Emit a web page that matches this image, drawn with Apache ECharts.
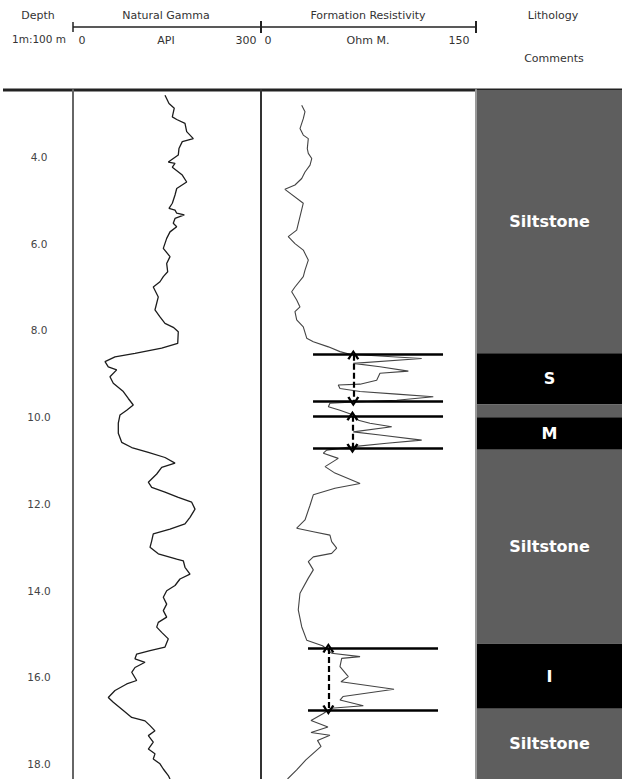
<!DOCTYPE html>
<html><head><meta charset="utf-8">
<script src="https://cdn.jsdelivr.net/npm/echarts@6/dist/echarts.min.js"></script>
<style>html,body{margin:0;padding:0;background:#fff}#c{width:622px;height:779px}</style>
</head><body><div id="c"></div>
<script>
// ---- data ----
const depthTicks = [4, 6, 8, 10, 12, 14, 16, 18];
const depthMin = 2.46, depthMax = 18.34;

const gammaDepth = [2.58,2.77,2.88,3.08,3.14,3.23,3.42,3.58,3.65,3.81,3.96,4.12,4.15,4.24,4.42,4.58,4.73,4.88,5.07,5.19,5.23,5.30,5.34,5.42,5.53,5.61,5.73,5.88,6.11,6.30,6.46,6.65,6.76,6.88,7.00,7.23,7.53,7.69,7.84,7.93,8.03,8.30,8.41,8.53,8.61,8.72,8.84,8.91,9.07,9.22,9.41,9.57,9.72,9.84,9.95,10.14,10.37,10.58,10.70,10.81,10.93,11.06,11.16,11.31,11.50,11.62,11.73,11.85,11.96,12.12,12.31,12.46,12.58,12.69,12.85,13.00,13.15,13.27,13.31,13.46,13.62,13.73,13.88,14.00,14.15,14.31,14.46,14.61,14.73,14.84,14.96,15.11,15.30,15.38,15.46,15.57,15.65,15.77,15.88,16.07,16.15,16.30,16.46,16.57,16.76,16.92,17.00,17.11,17.23,17.34,17.49,17.65,17.76,17.88,17.99,18.11,18.26,18.34];
const gammaAPI = [146.8,153.2,161.6,158.5,165.5,178.7,181.4,192.0,174.4,169.1,168.0,152.1,162.8,158.5,174.4,181.4,165.5,162.8,158.5,153.2,162.8,165.5,177.6,162.8,160.0,165.5,154.8,149.5,144.1,154.8,149.5,151.1,144.1,138.8,128.1,136.1,130.8,138.8,146.8,160.0,168.0,167.1,141.5,98.9,67.0,51.1,56.3,69.7,59.0,64.3,80.3,88.2,96.2,85.7,75.0,72.3,72.3,77.7,93.7,120.2,146.8,162.8,141.5,133.6,120.2,125.6,146.8,168.0,189.4,194.7,186.7,178.7,154.8,128.1,125.6,122.9,136.1,165.5,176.0,178.7,186.7,170.7,162.8,149.5,144.1,149.5,144.1,149.5,136.1,133.6,141.5,152.1,146.8,122.9,101.6,98.9,114.9,98.9,93.7,101.6,85.7,67.0,56.3,64.3,80.3,93.7,114.9,122.9,130.8,120.2,128.1,120.2,130.8,128.1,138.8,144.1,152.1,154.8];

const resDepth = [2.81,2.96,3.12,3.35,3.50,3.58,3.81,3.92,4.04,4.19,4.35,4.50,4.65,4.75,5.07,5.38,5.69,5.84,6.00,6.15,6.38,6.61,6.76,7.00,7.11,7.30,7.46,7.57,7.76,7.92,8.18,8.26,8.38,8.49,8.55,8.65,8.76,8.84,8.94,8.99,9.15,9.24,9.26,9.34,9.41,9.47,9.53,9.61,9.65,9.68,9.76,9.84,9.95,10.07,10.14,10.22,10.34,10.41,10.53,10.60,10.68,10.76,10.83,10.95,11.14,11.29,11.53,11.64,11.79,12.03,12.37,12.56,12.64,12.72,12.87,13.02,13.14,13.22,13.33,13.52,13.71,14.06,14.44,14.83,15.14,15.27,15.44,15.52,15.56,15.75,15.98,16.10,16.27,16.44,16.52,16.65,16.71,16.83,16.99,17.14,17.27,17.33,17.45,17.59,17.90,18.13,18.34];
const resOhm = [28.4,30.7,29.5,27.2,29.5,33.0,32.3,33.0,35.4,34.2,30.7,28.4,23.7,16.7,29.5,27.2,24.9,19.0,23.7,29.5,33.0,30.7,29.5,23.7,21.4,24.9,27.2,23.7,24.9,29.5,31.9,36.5,47.0,55.1,62.1,112.1,64.4,83.0,102.8,83.0,80.7,69.1,53.9,55.1,69.1,94.7,120.2,94.7,65.6,48.1,47.0,55.1,64.4,67.9,76.0,91.2,64.4,83.0,112.1,87.7,64.4,45.8,43.5,53.9,44.7,51.6,69.1,51.6,36.5,34.2,30.7,24.9,36.5,48.1,49.3,52.8,49.3,36.5,33.0,36.5,33.0,27.2,26.0,28.4,31.9,42.9,49.3,69.1,56.3,55.1,60.9,55.8,92.8,57.2,55.1,71.4,48.8,43.5,34.9,46.7,34.9,48.1,39.4,41.9,31.3,24.9,18.5];

const markerDepth = [8.56, 9.64, 9.97, 10.72, 15.32, 16.75];
const markerFrom  = [36.3, 36.3, 36.3, 36.3, 32.8, 32.8];
const markerTo    = [127, 127, 127, 127, 123.5, 123.5];
const arrowTop    = [8.56, 9.97, 15.32];
const arrowBottom = [9.64, 10.72, 16.75];
const arrowOhm    = [64.4, 63.8, 47.0];

const lithTop    = [2.46, 8.53, 9.71, 10.0, 10.75, 15.22, 16.72];
const lithBottom = [8.53, 9.71, 10.0, 10.75, 15.22, 16.72, 18.34];
const lithLabel  = ['Siltstone', 'S', '', 'M', 'Siltstone', 'I', 'Siltstone'];
const lithType   = ['silt', 'dark', 'silt', 'dark', 'silt', 'dark', 'silt'];

const trackTitles = ['Depth', 'Natural Gamma', 'Formation Resistivity', 'Lithology'];
const scaleLabel = '1m:100 m';
const gammaScale = ['0', 'API', '300'];
const resScale = ['0', 'Ohm M.', '150'];
const commentsLabel = 'Comments';

// ---- chart ----
const FONT = 'DejaVu Sans';
const lithColor = {silt: '#5e5e5e', dark: '#000000'};
const chart = echarts.init(document.getElementById('c'), null, {renderer: 'svg'});

const zip = (a, b) => a.map((v, i) => [b[i], v]);
const yBase = {type: 'value', inverse: true, min: depthMin, max: depthMax,
  splitLine: {show: false}, axisTick: {show: false}, axisLabel: {show: false}};

const txt = (x, y, s, size) => ({type: 'text', x: x, y: y,
  style: {text: s, font: (size || 11) + 'px ' + FONT, fill: '#333', align: 'center', verticalAlign: 'middle'}});
const ln = (x1, y1, x2, y2, w, c) => ({type: 'line', shape: {x1, y1, x2, y2}, style: {stroke: c || '#222', lineWidth: w}});
const CHEVRON = 'path://M5,0 L10,9 L8.2,10 L5,3.6 L1.8,10 L0,9 Z';

const option = {
  animation: false,
  backgroundColor: '#fff',
  grid: [
    {left: 73, top: 90, width: 188, bottom: 0},
    {left: 261, top: 90, width: 215, bottom: 0},
    {left: 477, top: 90, width: 145, bottom: 0}
  ],
  xAxis: [
    {type: 'value', gridIndex: 0, min: 0, max: 300, show: false},
    {type: 'value', gridIndex: 1, min: 0, max: 150, show: false},
    {type: 'value', gridIndex: 2, min: 0, max: 1, show: false}
  ],
  yAxis: [
    Object.assign({}, yBase, {gridIndex: 0,
      axisLine: {show: true, lineStyle: {color: '#666', width: 2}},
      axisLabel: {show: true, customValues: depthTicks, formatter: v => v.toFixed(1),
        margin: 34, align: 'center', color: '#444', fontSize: 10.5, fontFamily: FONT}}),
    Object.assign({}, yBase, {gridIndex: 1, axisLine: {show: true, lineStyle: {color: '#333', width: 2}}}),
    Object.assign({}, yBase, {gridIndex: 1, position: 'right', axisLine: {show: true, lineStyle: {color: '#999', width: 2}}}),
    Object.assign({}, yBase, {gridIndex: 2, axisLine: {show: false}})
  ],
  series: [
    {type: 'line', xAxisIndex: 0, yAxisIndex: 0, data: zip(gammaDepth, gammaAPI),
      showSymbol: false, lineStyle: {color: '#1c1c1c', width: 1.3}, silent: true},
    {type: 'line', xAxisIndex: 1, yAxisIndex: 1, data: zip(resDepth, resOhm),
      showSymbol: false, lineStyle: {color: '#444', width: 1.1}, silent: true},
    {type: 'line', xAxisIndex: 1, yAxisIndex: 1, data: [], silent: true,
      markLine: {silent: true, symbol: ['none', 'none'], label: {show: false},
        lineStyle: {color: '#000', width: 2.5, type: 'solid'},
        data: markerDepth.map((d, i) => [{coord: [markerFrom[i], d]}, {coord: [markerTo[i], d]}])}},
    {type: 'line', xAxisIndex: 1, yAxisIndex: 1, data: [], silent: true,
      markLine: {silent: true, symbol: [CHEVRON, CHEVRON],
        symbolSize: [12, 10], label: {show: false},
        lineStyle: {color: '#000', width: 2.2, type: [6, 3]},
        data: arrowOhm.map((x, i) => [{coord: [x, arrowTop[i]]}, {coord: [x, arrowBottom[i]]}])}},
    {type: 'line', xAxisIndex: 2, yAxisIndex: 3, data: [], silent: true,
      markArea: {silent: true,
        label: {show: true, position: 'inside', color: '#fff', fontWeight: 'bold', fontSize: 16, fontFamily: FONT, formatter: '{b}'},
        data: lithTop.map((t, i) => [{yAxis: t, name: lithLabel[i], itemStyle: {color: lithColor[lithType[i]], opacity: 1}}, {yAxis: lithBottom[i]}])}}
  ],
  graphic: [
    txt(38, 15, trackTitles[0]),
    txt(166, 15, trackTitles[1]),
    txt(368, 15, trackTitles[2]),
    txt(553, 15, trackTitles[3]),
    txt(39, 39, scaleLabel, 10.5),
    txt(82, 40, gammaScale[0]), txt(166, 40, gammaScale[1]), txt(246, 40, gammaScale[2]),
    txt(268, 40, resScale[0]), txt(368, 40, resScale[1]), txt(459, 40, resScale[2]),
    txt(554, 58, commentsLabel),
    ln(73, 27, 476, 27, 1.5),
    ln(73, 22, 73, 32, 1.5), ln(261, 21, 261, 33, 2), ln(476, 21, 476, 33, 2),
    ln(3, 90, 622, 90, 3)
  ]
};
chart.setOption(option);
</script></body></html>
